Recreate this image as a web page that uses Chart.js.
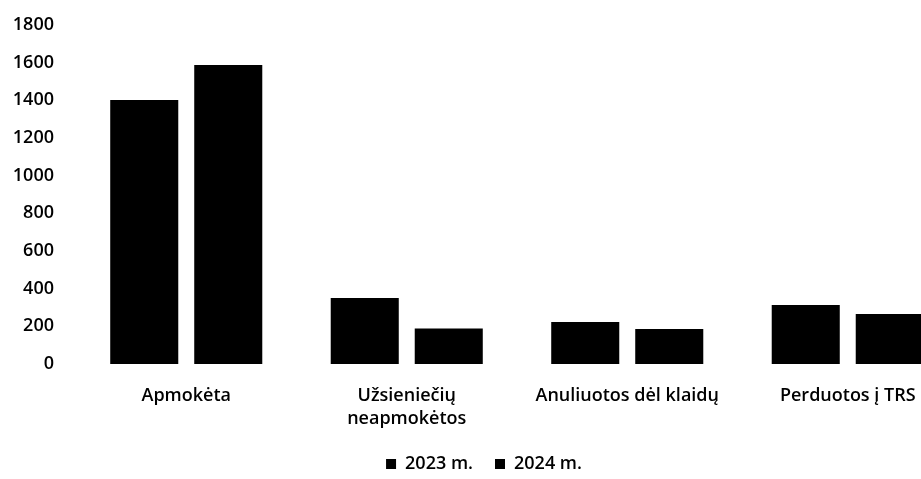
<!DOCTYPE html>
<html>
<head>
<meta charset="utf-8">
<script src="https://cdn.jsdelivr.net/npm/chart.js@4"></script>
<style>
html,body{margin:0;padding:0;background:#fff;overflow:hidden;}
#wrap{width:960px;height:479px;position:relative;}
</style>
</head>
<body>
<div id="wrap"><canvas id="c"></canvas></div>
<script>
const categories = ["Apmokėta", ["Užsieniečių", "neapmokėtos"], "Anuliuotos dėl klaidų", "Perduotos į TRS"];
const series2023 = [1402, 350, 223, 313];
const series2024 = [1588, 189, 186, 265];
const seriesNames = ["2023 m.", "2024 m."];
const yTicks = [0, 200, 400, 600, 800, 1000, 1200, 1400, 1600, 1800];

const font = {family: "'Open Sans', sans-serif", size: 18, weight: '600', lineHeight: 1.3};

new Chart(document.getElementById('c'), {
  type: 'bar',
  data: {
    labels: categories,
    datasets: [
      {label: seriesNames[0], data: series2023, backgroundColor: '#000', borderWidth: 0},
      {label: seriesNames[1], data: series2024, backgroundColor: '#000', borderWidth: 0}
    ]
  },
  options: {
    responsive: true,
    maintainAspectRatio: false,
    animation: false,
    datasets: {bar: {categoryPercentage: 0.762, barPercentage: 0.81}},
    layout: {padding: {top: 25, left: 10, right: 2, bottom: -4}},
    scales: {
      x: {
        grid: {display: false, drawTicks: false},
        border: {display: false},
        afterFit: (s) => { s.height = 69; },
        ticks: {color: '#000', font: font, padding: 20, maxRotation: 0, autoSkip: false}
      },
      y: {
        min: 0, max: 1800,
        afterBuildTicks: (s) => { s.ticks = yTicks.map(v => ({value: v})); },
        afterFit: (s) => { s.width = 66; s.paddingTop = 0; s.paddingBottom = 0; },
        grid: {display: false, drawTicks: false},
        border: {display: false},
        ticks: {color: '#000', font: font, padding: 22, callback: (v) => String(v)}
      }
    },
    plugins: {
      legend: {
        position: 'bottom',
        labels: {color: '#000', font: font, boxWidth: 10, boxHeight: 10, padding: 22},
        onClick: null
      },
      tooltip: {enabled: false}
    }
  }
});
</script>
</body>
</html>
